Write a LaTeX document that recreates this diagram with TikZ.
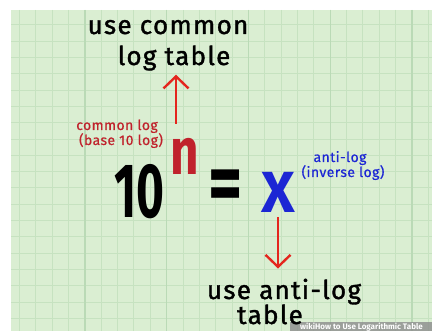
\documentclass[tikz,border=0pt]{standalone}
\usepackage{fontspec}
\setmainfont{Fira Sans}
\newfontfamily\handfont[FakeBold=1.4, LetterSpace=5]{Fira Sans}
\newfontfamily\notefont[FakeBold=0.6, LetterSpace=3]{Fira Sans}
\usetikzlibrary{arrows.meta}
\definecolor{paper}{RGB}{218,238,210}
\definecolor{gridgreen}{RGB}{198,226,192}
\definecolor{gridmajor}{RGB}{186,218,182}
\definecolor{penred}{RGB}{228,38,30}
\definecolor{inkred}{RGB}{192,34,44}
\definecolor{inkblue}{RGB}{28,38,212}
\begin{document}
\begin{tikzpicture}[x=1pt,y=-1pt,
  big/.style={font=\fontsize{26}{26}\handfont, inner sep=0pt, anchor=base},
  note/.style={font=\fontsize{14}{14}\notefont, inner sep=0pt, anchor=base},
  arr/.style={-{Straight Barb[length=12pt,width=25pt,line width=2.4pt]}, penred, line width=2.4pt}]
\useasboundingbox (0,0) rectangle (432,331);
\fill[white] (0,0) rectangle (432,331);
\fill[paper] (11,10) rectangle (432,331);
\foreach \i in {0,...,25}
  \draw[gridgreen, line width=1pt] (19.5+16.35*\i,10) -- (19.5+16.35*\i,331);
\foreach \i in {0,...,18}
  \draw[gridgreen, line width=1pt] (11,25+16.3*\i) -- (432,25+16.3*\i);
\foreach \i in {4,9,...,24}
  \draw[gridmajor, line width=1.2pt] (19.5+16.35*\i,10) -- (19.5+16.35*\i,331);

% site banner
\begin{scope}
\clip (0,0) rectangle (432,331);
\fill[black!45, opacity=0.8] (290,322) rectangle (432,335);
\node[inner sep=0pt, anchor=base west, white, font=\fontsize{8}{8}\selectfont\bfseries] (wm) at (300,330) {wikiHow to Use Logarithmic Table};
\end{scope}

\node[big] (usecom) at (168,34) {use common};
\node[big] (logtab) at (174,65) {log table};
\node[note, inkred] (comlog) at (117,130) {common log};
\node[note, inkred] (base10) at (121,145) {(base 10 log)};
\node[inner sep=0pt, anchor=base, inkred, font=\fontsize{66}{66}\selectfont\bfseries] (nexp) at (185,175) {\scalebox{0.75}[1]{n}};
\node[inner sep=0pt, anchor=base, font=\fontsize{77}{77}\selectfont\bfseries] (ten) at (139.5,218) {\scalebox{0.62}[1]{10}};
\node[inner sep=0pt, font=\fontsize{66}{66}\selectfont\bfseries] (eq) at (226,191) {\scalebox{1}[1.3]{=}};
\node[inner sep=0pt, inkblue, font=\fontsize{58}{58}\selectfont\bfseries] (ex) at (278,192) {X};
\node[note, inkblue] (antilog) at (340,162) {anti-log};
\node[note, inkblue] (inverse) at (343,177) {(inverse log)};
\node[big] (useanti) at (284,299) {use anti-log};
\node[big] (table) at (270,324) {table};

\draw[arr, shorten <=15pt, shorten >=4pt] ([xshift=-9pt]nexp.north) -- ([xshift=-9pt]nexp.north |- logtab.south);
\draw[arr, shorten <=5pt, shorten >=10pt] (ex.south) -- (ex.south |- useanti.north);
\end{tikzpicture}
\end{document}
